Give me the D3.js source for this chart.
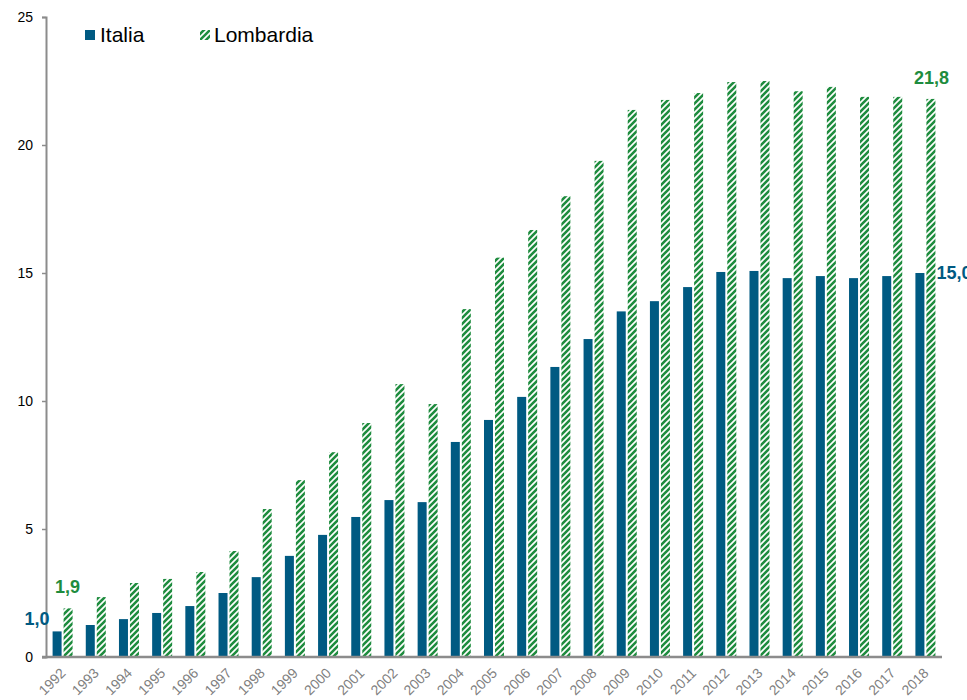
<!DOCTYPE html>
<html>
<head>
<meta charset="utf-8">
<style>
body { margin: 0; background: #fff; }
text { font-family: Arial, "Liberation Sans", sans-serif; }
</style>
<script src="https://d3js.org/d3.v7.min.js"></script>
</head>
<body>
<script>
var w = 967;
var h = 700;

var years = ["1992","1993","1994","1995","1996","1997","1998","1999","2000","2001","2002","2003","2004","2005",
             "2006","2007","2008","2009","2010","2011","2012","2013","2014","2015","2016","2017","2018"];
var italia = [1.0, 1.25, 1.48, 1.72, 1.99, 2.5, 3.12, 3.95, 4.77, 5.47, 6.13, 6.05, 8.4, 9.26,
              10.16, 11.33, 12.42, 13.5, 13.9, 14.45, 15.04, 15.08, 14.8, 14.88, 14.8, 14.88, 15.0];
var lombardia = [1.9, 2.34, 2.89, 3.05, 3.32, 4.14, 5.78, 6.91, 8.0, 9.14, 10.66, 9.88, 13.59, 15.6,
                 16.68, 18.0, 19.38, 21.37, 21.76, 22.03, 22.46, 22.5, 22.1, 22.27, 21.88, 21.88, 21.8];
var yTicks = [0, 5, 10, 15, 20, 25];

var blue = "#005a82";
var green = "#1e8c3e";

var svg = d3.select("body").append("svg")
    .attr("width", w)
    .attr("height", h);

// hatch pattern for Lombardia
var pat = svg.append("defs").append("pattern")
    .attr("id", "hatch")
    .attr("patternUnits", "userSpaceOnUse")
    .attr("width", 6)
    .attr("height", 6);
pat.append("rect").attr("width", 6).attr("height", 6).attr("fill", "#fff");
pat.append("path")
    .attr("d", "M-1,1 l2,-2 M0,6 l6,-6 M5,7 l2,-2")
    .attr("stroke", green)
    .attr("stroke-width", 2.6);

var x = d3.scaleBand()
    .domain(years)
    .range([46, 942]);

var y = d3.scaleLinear()
    .domain([0, 25])
    .range([657, 17]);

var barW = 9;

// bars
svg.append("g").selectAll("rect")
    .data(italia)
    .enter().append("rect")
    .attr("x", function(d, i) { return x(years[i]) + x.bandwidth() / 2 - barW - 1; })
    .attr("y", function(d) { return y(d); })
    .attr("width", barW)
    .attr("height", function(d) { return y(0) - y(d); })
    .attr("fill", blue);

svg.append("g").selectAll("rect")
    .data(lombardia)
    .enter().append("rect")
    .attr("x", function(d, i) { return x(years[i]) + x.bandwidth() / 2 + 1; })
    .attr("y", function(d) { return y(d); })
    .attr("width", barW)
    .attr("height", function(d) { return y(0) - y(d); })
    .attr("fill", "url(#hatch)");

// y axis
var yAxis = svg.append("g")
    .attr("transform", "translate(46,0)")
    .call(d3.axisLeft(y).tickValues(yTicks).tickSize(4).tickPadding(9).tickFormat(d3.format("d")));
yAxis.select(".domain").attr("stroke", "#8c8c8c").attr("stroke-width", 2);
yAxis.selectAll(".tick line").attr("stroke", "#8c8c8c").attr("stroke-width", 1.5);
yAxis.selectAll(".tick text").attr("font-size", 14).attr("fill", "#000");

// x axis
var xAxis = svg.append("g")
    .attr("transform", "translate(0,657)")
    .call(d3.axisBottom(x).tickSize(0).tickPadding(0));
xAxis.select(".domain").attr("stroke", "#8c8c8c").attr("stroke-width", 2.5)
    .attr("d", "M42,0H942");
xAxis.selectAll(".tick text")
    .attr("font-size", 14)
    .attr("fill", "#7f7f7f")
    .attr("text-anchor", "end")
    .attr("dy", 0)
    .attr("transform", "translate(4,17) rotate(-45)");

// value labels at ends
var first = 0, last = years.length - 1;
svg.append("text")
    .attr("x", x(years[first]) + x.bandwidth() / 2 - barW - 4)
    .attr("y", y(italia[first]) - 6)
    .attr("text-anchor", "end")
    .attr("font-size", 18).attr("font-weight", "bold").attr("fill", blue)
    .text("1,0");
svg.append("text")
    .attr("x", x(years[first]) + x.bandwidth() / 2 + 5)
    .attr("y", y(lombardia[first]) - 15)
    .attr("text-anchor", "middle")
    .attr("font-size", 18).attr("font-weight", "bold").attr("fill", green)
    .text("1,9");
svg.append("text")
    .attr("x", x(years[last]) + x.bandwidth() / 2 + 6)
    .attr("y", y(lombardia[last]) - 15)
    .attr("text-anchor", "middle")
    .attr("font-size", 18).attr("font-weight", "bold").attr("fill", green)
    .text("21,8");
svg.append("text")
    .attr("x", x(years[last]) + x.bandwidth() / 2 + 11)
    .attr("y", y(italia[last]) + 6)
    .attr("text-anchor", "start")
    .attr("font-size", 18).attr("font-weight", "bold").attr("fill", blue)
    .text("15,0");

// legend
var legend = svg.append("g");
legend.append("rect").attr("x", 85).attr("y", 30).attr("width", 10).attr("height", 10).attr("fill", blue);
legend.append("text").attr("x", 100).attr("y", 42).attr("font-size", 21).attr("fill", "#000").text("Italia");
legend.append("rect").attr("x", 200).attr("y", 30).attr("width", 10).attr("height", 10).attr("fill", "url(#hatch)");
legend.append("text").attr("x", 214).attr("y", 42).attr("font-size", 21).attr("fill", "#000").text("Lombardia");
</script>
</body>
</html>
